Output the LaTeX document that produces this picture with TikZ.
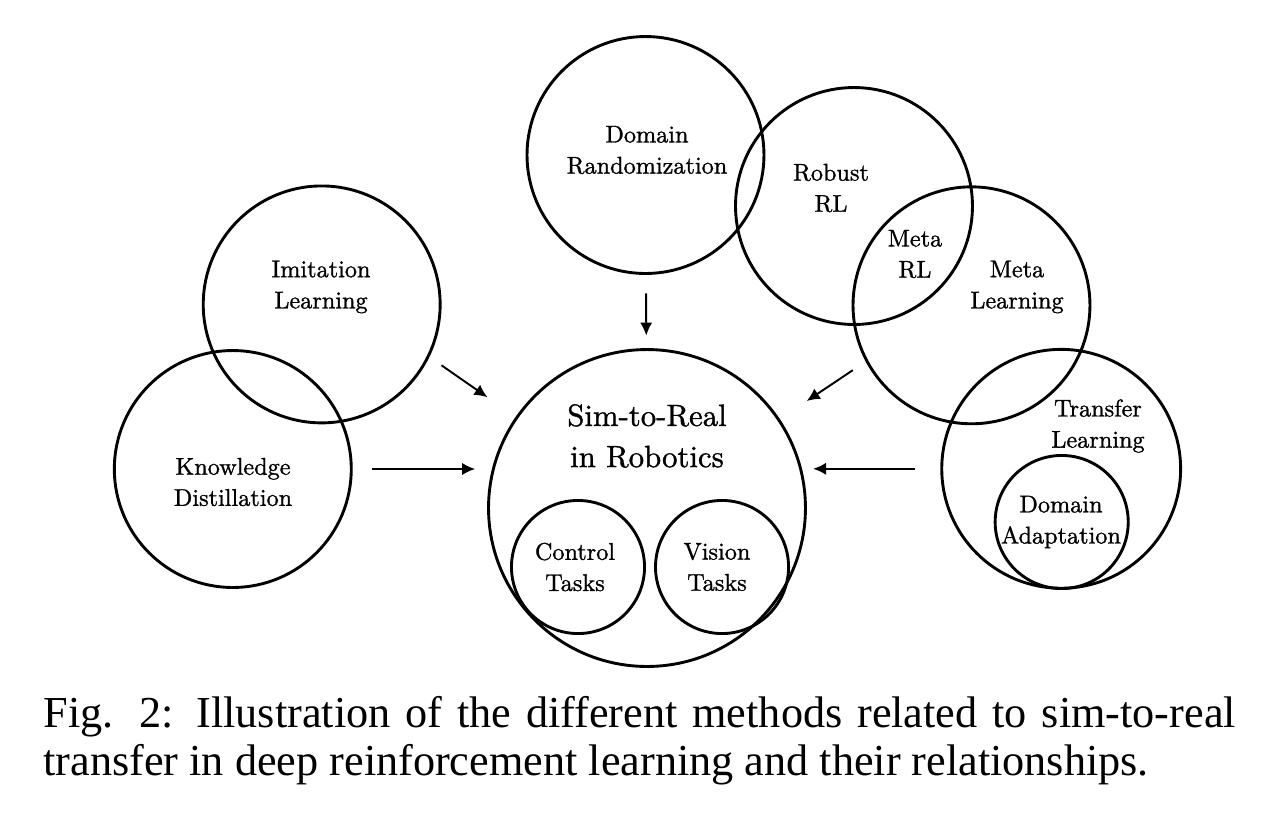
\documentclass[tikz,border=0pt]{standalone}
\usepackage{fontspec}
\newfontfamily\capfont{Liberation Serif}
\newfontfamily\lblfont{lmroman10-regular}[Extension=.otf, FakeBold=1.1]
\usetikzlibrary{arrows.meta,positioning,calc}

\begin{document}
\begin{tikzpicture}[x=0.26pt, y=-0.26pt,
  ring/.style={draw, circle, line width=0.75pt, inner sep=0pt, minimum size=61.6pt},
  cup/.style={draw, circle, line width=0.75pt, inner sep=0pt, minimum size=34.6pt},
  hub/.style={draw, circle, line width=0.75pt, inner sep=0pt, minimum size=82.4pt},
  lbl/.style={font=\lblfont\fontsize{6.3}{8.1}\selectfont, align=center, inner sep=0pt},
  hublbl/.style={font=\lblfont\fontsize{8}{10.7}\selectfont, align=center, inner sep=0pt},
  arr/.style={-{Latex[length=3.4pt,width=3.2pt]}, line width=0.5pt},
  capt/.style={font=\capfont\fontsize{11.5}{12.4}\selectfont, align=justify,
    text width=310pt, inner sep=0pt, anchor=north west}]
\useasboundingbox (0,0) rectangle (1284,812);
% the target and its two task circles
\node[hub] (sim) at (647,508) {};
\node[cup] (ct) at (578,567) {};
\node[cup, right=2.1pt of ct] (vt) {};
\node[hublbl] (simt) at (647,436) {Sim-to-Real\\in Robotics};
\node[lbl] (ctt) at (575,567) {Control\\Tasks};
\node[lbl] (vtt) at (717,567) {Vision\\Tasks};
% left group
\node[ring] (il) at (321.7,304.4) {};
\node[ring] (kd) at (232.8,469) {};
\node[lbl] (ilt) at (321,287) {Imitation\\Learning};
\node[lbl] (kdt) at (233,482) {Knowledge\\Distillation};
% upper and right group
\node[ring] (dr) at (645.5,155) {};
\node[ring] (rr) at (854,206) {};
\node[ring] (ml) at (971.5,305.3) {};
\node[ring, minimum size=62.1pt] (tl) at (1061.2,468.8) {};
\node[cup] (da) at (1061.7,522) {};
\node[lbl] (drt) at (647,150) {Domain\\Randomization};
\node[lbl] (rrt) at (831,188) {Robust\\RL};
\node[lbl] (mrt) at (915,254) {Meta\\RL};
\node[lbl] (mlt) at (1017,287) {Meta\\Learning};
\node[lbl] (tlt) at (1098,426) {Transfer\\Learning};
\node[lbl] (dat) at (1061,522) {Domain\\Adaptation};
% arrows into the target
\draw[arr, shorten <=4.8pt, shorten >=3.25pt] (dr) -- (sim);
\draw[arr, shorten <=3.8pt, shorten >=8.9pt] (il.-26.6) -- (sim);
\draw[arr, shorten <=5pt, shorten >=3.1pt] (kd.east) -- (kd.east -| sim.west);
\draw[arr, shorten <=4pt, shorten >=8.4pt] (ml.-152.6) -- (sim);
\draw[arr, shorten <=6.6pt, shorten >=1.6pt] (tl.west) -- (tl.west -| sim.east);
\node[capt] (cap) at (42.7,696) {Fig. 2: Illustration of the different methods related to sim-to-real\linebreak transfer in deep reinforcement learning and their relationships.};
\end{tikzpicture}
\end{document}
